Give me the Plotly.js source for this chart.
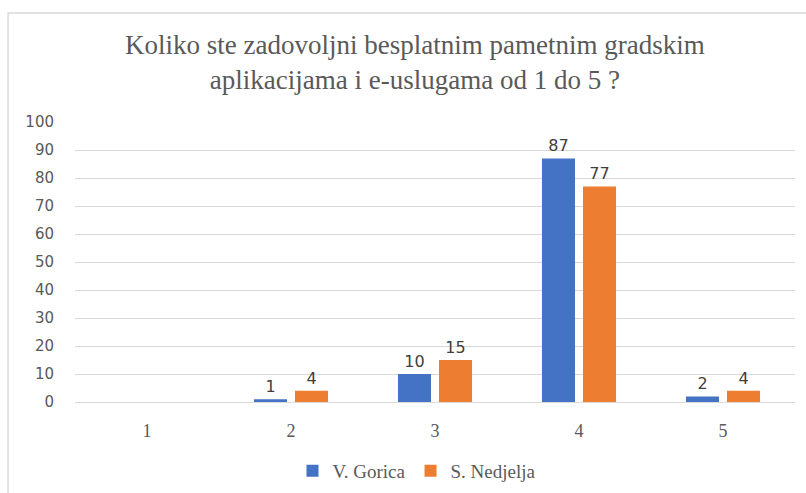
<!DOCTYPE html>
<html>
<head>
<meta charset="utf-8">
<script src="https://cdn.plot.ly/plotly-3.0.1.min.js"></script>
<style>html,body{margin:0;padding:0;background:#fff;}#chart{width:806px;height:493px;}</style>
</head>
<body>
<div id="chart"></div>
<script>
const categories = ['1', '2', '3', '4', '5'];
const seriesNames = ['V. Gorica', 'S. Nedjelja'];
const gorica = [0, 1, 10, 87, 2];
const nedjelja = [0, 4, 15, 77, 4];
const yTicks = [0, 10, 20, 30, 40, 50, 60, 70, 80, 90, 100];
const titleText = 'Koliko ste zadovoljni besplatnim pametnim gradskim<br>aplikacijama i e-uslugama od 1 do 5 ?';

const labels = arr => arr.map(v => v === 0 ? '' : String(v));
const sans = 'DejaVu Sans';
const serif = 'Liberation Serif';

const mk = (name, vals, color) => ({
  type: 'bar', name: name, x: categories, y: vals,
  text: labels(vals), textposition: 'outside', cliponaxis: false,
  textfont: {family: sans, size: 16, color: '#404040'},
  marker: {color: color}, hoverinfo: 'skip'
});

const data = [mk(seriesNames[0], gorica, '#4472c4'), mk(seriesNames[1], nedjelja, '#ed7d31')];

const layout = {
  width: 806, height: 493,
  margin: {l: 75, r: 11, t: 122, b: 91, autoexpand: false},
  paper_bgcolor: '#fff', plot_bgcolor: '#fff',
  font: {family: serif},
  annotations: [{text: titleText, xref: 'paper', yref: 'paper', x: 0.472, y: 1.2125,
                 xanchor: 'center', yanchor: 'middle', showarrow: false, align: 'center',
                 font: {family: serif, size: 27, color: '#595959'}}],
  barmode: 'group', bargap: 0.43, bargroupgap: 0.195,
  xaxis: {type: 'category', showgrid: false, zeroline: false, showline: false, ticks: '', automargin: false,
          tickfont: {family: serif, size: 18, color: '#595959'}, ticklabelstandoff: 16},
  yaxis: {range: [0, 100], tickvals: yTicks, showgrid: true, gridcolor: '#d9d9d9', gridwidth: 1, automargin: false,
          zeroline: true, zerolinecolor: '#d9d9d9', zerolinewidth: 1, showline: false, ticks: '',
          tickfont: {family: sans, size: 15, color: '#595959'}, ticklabelstandoff: 20},
  showlegend: true,
  legend: {orientation: 'h', x: 0.475, xanchor: 'center', y: -0.246, yanchor: 'middle',
           font: {family: serif, size: 19, color: '#595959'}, itemwidth: 30, traceorder: 'normal'},
  shapes: [{type: 'rect', xref: 'paper', yref: 'paper', x0: -0.093, x1: 1.06, y0: -0.4, y1: 1.389,
            line: {color: '#d9d9d9', width: 1.5}, fillcolor: 'rgba(0,0,0,0)', layer: 'below'}]
};

Plotly.newPlot('chart', data, layout, {staticPlot: true, displayModeBar: false});
</script>
</body>
</html>
